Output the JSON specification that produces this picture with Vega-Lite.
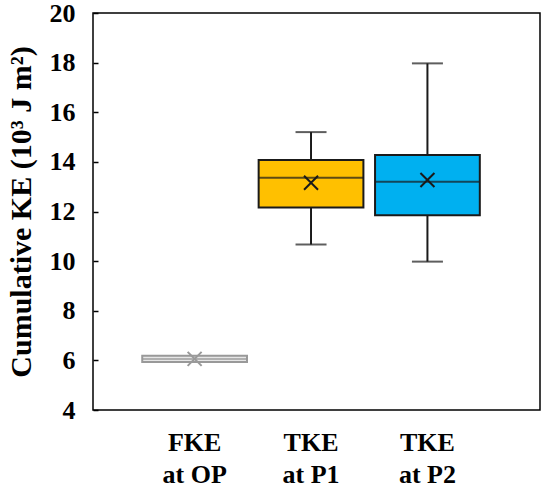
{
  "$schema": "https://vega.github.io/schema/vega-lite/v6.json",
  "autosize": "none",
  "width": 447,
  "height": 397,
  "padding": {"left": 93, "top": 13, "right": 10, "bottom": 80},
  "background": "white",
  "config": {
    "view": {"stroke": "#000", "strokeWidth": 1.5},
    "font": "Liberation Serif"
  },
  "data": {
    "values": [
      {"cat": "FKE at OP", "min": 5.96, "q1": 5.93, "median": 6.06, "q3": 6.19, "max": 6.16, "mean": 6.06},
      {"cat": "TKE at P1", "min": 10.67, "q1": 12.16, "median": 13.36, "q3": 14.08, "max": 15.2, "mean": 13.16},
      {"cat": "TKE at P2", "min": 9.98, "q1": 11.85, "median": 13.2, "q3": 14.28, "max": 17.97, "mean": 13.27}
    ]
  },
  "encoding": {
    "x": {
      "field": "cat",
      "type": "nominal",
      "sort": null,
      "scale": {"paddingInner": 0.1, "paddingOuter": 0.47, "align": 0.45},
      "axis": {
        "title": null,
        "domain": false,
        "ticks": false,
        "labelAngle": 0,
        "labelFont": "Liberation Serif",
        "labelFontWeight": "bold",
        "labelFontSize": 26,
        "labelColor": "#000",
        "labelPadding": 19,
        "labelLineHeight": 32,
        "labelBaseline": "top",
        "labelExpr": "[slice(datum.label, 0, 3), slice(datum.label, 4)]"
      }
    }
  },
  "layer": [
    {
      "mark": {"type": "rule", "strokeWidth": 2},
      "encoding": {
        "y": {
          "field": "min",
          "type": "quantitative",
          "scale": {"domain": [4, 20], "nice": false},
          "axis": {
            "title": "Cumulative KE (10³   J m²)",
            "values": [4, 6, 8, 10, 12, 14, 16, 18, 20],
            "grid": false,
            "domain": false,
            "tickSize": -5,
            "tickColor": "#000",
            "tickWidth": 1.5,
            "labelFont": "Liberation Serif",
            "labelFontWeight": "bold",
            "labelFontSize": 26,
            "labelColor": "#000",
            "labelPadding": 23,
            "titleFont": "Liberation Serif",
            "titleFontWeight": "bold",
            "titleFontSize": 30,
            "titleColor": "#000",
            "titlePadding": 13
          }
        },
        "y2": {"field": "max"},
        "stroke": {
          "field": "cat",
          "type": "nominal",
          "scale": {"domain": ["FKE at OP", "TKE at P1", "TKE at P2"], "range": ["#999999", "#1a1a1a", "#1a1a1a"]},
          "legend": null
        }
      }
    },
    {
      "mark": {"type": "tick", "thickness": 2, "size": 31},
      "encoding": {
        "y": {"field": "min", "type": "quantitative"},
        "color": {
          "field": "cat",
          "type": "nominal",
          "scale": {"domain": ["FKE at OP", "TKE at P1", "TKE at P2"], "range": ["#999999", "#1a1a1a", "#1a1a1a"]},
          "legend": null
        }
      }
    },
    {
      "mark": {"type": "tick", "thickness": 2, "size": 31},
      "encoding": {
        "y": {"field": "max", "type": "quantitative"},
        "color": {"field": "cat", "type": "nominal", "legend": null}
      }
    },
    {
      "mark": {"type": "bar", "strokeWidth": 2},
      "encoding": {
        "y": {"field": "q1", "type": "quantitative"},
        "y2": {"field": "q3"},
        "fill": {
          "field": "cat",
          "type": "nominal",
          "scale": {"domain": ["FKE at OP", "TKE at P1", "TKE at P2"], "range": ["#e6e6e6", "#FFC000", "#00B0F0"]},
          "legend": null
        },
        "stroke": {"field": "cat", "type": "nominal", "legend": null}
      }
    },
    {
      "mark": {"type": "tick", "thickness": 2, "size": 104},
      "encoding": {
        "y": {"field": "median", "type": "quantitative"},
        "color": {"field": "cat", "type": "nominal", "legend": null}
      }
    },
    {
      "mark": {"type": "point", "shape": "M-1,-1L1,1M1,-1L-1,1", "filled": false, "strokeWidth": 2, "size": 196, "opacity": 1},
      "encoding": {
        "y": {"field": "mean", "type": "quantitative"},
        "stroke": {"field": "cat", "type": "nominal", "legend": null}
      }
    }
  ]
}
